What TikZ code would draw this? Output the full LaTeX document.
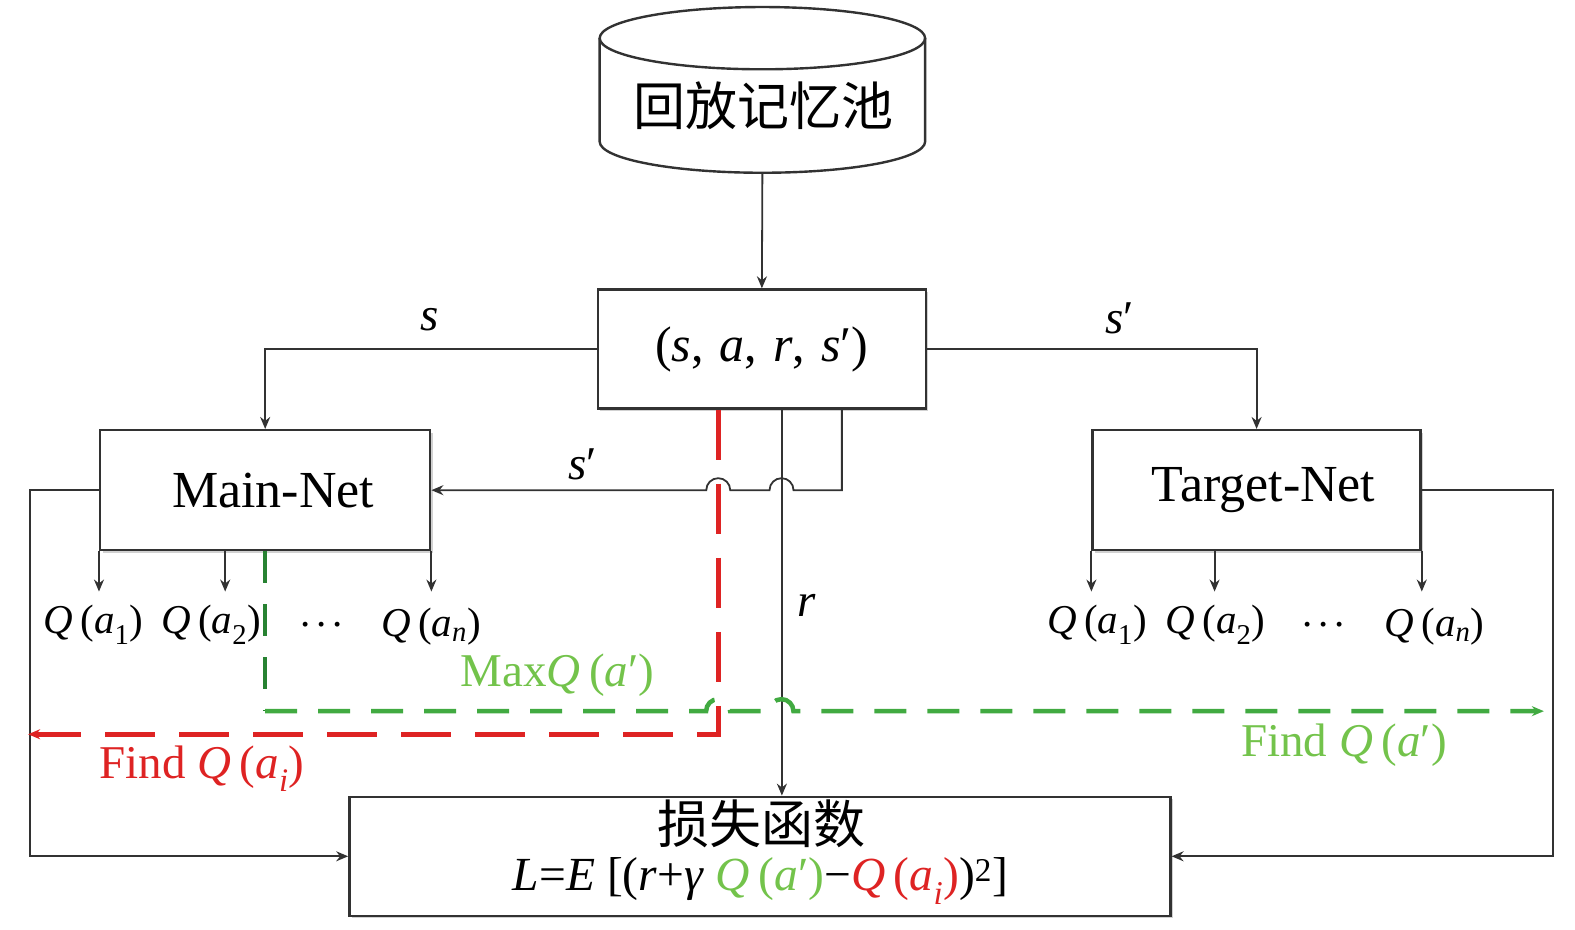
\documentclass[tikz,border=0pt]{standalone}
\usepackage{fontspec}
\setmainfont{Liberation Serif}
\newfontfamily\cjk{Noto Sans CJK SC}
\usepackage{tikz}
\usetikzlibrary{arrows}
\usetikzlibrary{arrows.meta}
\usetikzlibrary{positioning}
\usetikzlibrary{shadows}

\definecolor{lineg}{RGB}{50,50,50}
\definecolor{flowred}{RGB}{222,35,35}
\definecolor{flowgreen}{RGB}{65,170,65}
\definecolor{darkgreen}{RGB}{40,130,50}
\definecolor{textgreen}{RGB}{115,195,75}

\newcommand{\qa}[1]{\textit{Q}\hspace{0.18em}(\textit{a}\textsubscript{#1})}
\newcommand{\qp}{\textit{Q}\hspace{0.18em}(\textit{a}′)}
\newcommand{\qdots}{.\hspace{6pt}.\hspace{6pt}.}

\begin{document}
\begin{tikzpicture}
			[x=1.00446pt,y=1.00446pt,>={Stealth[length=12pt,width=10pt]},
			box/.style={draw=lineg,line width=2.4pt,fill=white,inner sep=0pt,
				drop shadow={shadow xshift=2.5pt,shadow yshift=-2.5pt,fill=black!30,opacity=0.6}},
			drum/.style={draw=lineg,line width=2.4pt},
			line/.style={draw=lineg,line width=1.8pt},
			redflow/.style={draw=flowred,line width=5pt,dash pattern=on 50pt off 24pt},
			greenflow/.style={draw=flowgreen,line width=4.5pt,dash pattern=on 32pt off 21pt},
			every node/.style={inner sep=0pt},
			big/.style={font=\fontsize{52}{58}\selectfont},
			lbl/.style={font=\fontsize{47}{52}\selectfont},
			qlbl/.style={font=\fontsize{41}{45}\selectfont}]
			\useasboundingbox (0,0) rectangle (1568,925);
			
			% replay memory drum
			\draw[drum] (597,887) -- (597,784) arc[start angle=180,end angle=360,x radius=162,y radius=31] -- (921,887);
			\draw[drum] (759,887) ellipse[x radius=162,y radius=31];
			\node[font=\cjk\fontsize{52}{58}\selectfont] (pool) at (760,820) {回放记忆池};
			\coordinate (poolbase) at (759,753);
			
			% boxes
			\node[box,minimum width=328pt,minimum height=119pt,font=\fontsize{50}{56}\selectfont] (tuple) at (758.5,577.5)
			{(\textit{s},\hspace{0.32em}\textit{a},\hspace{0.32em}\textit{r},\hspace{0.32em}\textit{s}′)};
			\node[box,minimum width=330pt,minimum height=120pt,big] (main) at (264,437) {\hspace*{16pt}Main-Net};
			\node[box,minimum width=328pt,minimum height=120pt,big] (target) at (1251,437) {\hspace*{14pt}Target-Net};
			\node[box,minimum width=821pt,minimum height=119pt] (loss) at (756.5,72.5) {};
			\node[font=\cjk\fontsize{52}{58}\selectfont] (lossname) at (758,105) {损失函数};
			\node[font=\fontsize{47.5}{52}\selectfont] (lossfn) at (757,48) {\textit{L}=\textit{E} [(\textit{r}+\textit{γ} \textcolor{textgreen}{\qp}−\textcolor{flowred}{\qa{\textit{i}}})\textsuperscript{2}]};
			
			% outputs
			\node[qlbl] (qm1) at (93,303) {\qa{1}};
			\node[qlbl] (qm2) at (210,303) {\qa{2}};
			\node[qlbl] (qmd) at (320,303) {\qdots};
			\node[qlbl] (qmn) at (429,301) {\qa{\textit{n}}};
			\node[qlbl] (qt1) at (1092,303) {\qa{1}};
			\node[qlbl] (qt2) at (1210,303) {\qa{2}};
			\node[qlbl] (qtd) at (1318,303) {\qdots};
			\node[qlbl] (qtn) at (1428,301) {\qa{\textit{n}}};
			
			% labels
			\node[lbl] (ls) at (428,607) {\textit{s}};
			\node[lbl] (lsp) at (1115,608) {\textit{s}′};
			\node[lbl] (lsm) at (580,463) {\textit{s}′};
			\node[lbl] (lr) at (803,322) {\textit{r}};
			\node[lbl,text=textgreen] (lmax) at (555,253) {Max\qp};
			\node[lbl,text=flowred] (lfindi) at (201,160) {Find \qa{\textit{i}}};
			\node[lbl,text=textgreen] (lfindp) at (1338,183) {Find \qp};
			
			\coordinate (rtop) at ([xshift=20pt]tuple.south);
			\coordinate (redend) at (28,194);
			\coordinate (gturn) at (264,217);
			\coordinate (gend) at (1537,217);
			
			% connectors
			\draw[line,->] (poolbase) -- (tuple.north);
			\draw[line,->] (tuple.west) -| (main.north);
			\draw[line,->] (tuple.east) -| (target.north);
			\draw[line,->] (main.west) -- ++(-69,0) |- (loss.west);
			\draw[line,->] (target.east) -- ++(131,0) |- (loss.east);
			\foreach \net in {main,target}
			{
				\draw[line,->] (\net.south west) -- ++(0,-40);
				\draw[line,->] (\net.south east) -- ++(0,-40);
			}
			\draw[line,->] ([xshift=-40pt]main.south) -- ++(0,-40);
			\draw[line,->] ([xshift=-42pt]target.south) -- ++(0,-40);
			\draw[line,->] (rtop) -- (rtop |- loss.north);
			\draw[line,->] ([xshift=80pt]tuple.south) |- (790,437)
			arc[start angle=0,end angle=180,radius=12pt] -- (727,437)
			arc[start angle=0,end angle=180,radius=12pt] -- (main.east);
			
			% flows
			\draw[redflow,->] ([xshift=-43.5pt]tuple.south) |- (redend);
			\draw[greenflow,draw=darkgreen] (main.south) -- (gturn);
			\draw[greenflow,->] (gturn) -- (703,217)
			arc[start angle=180,end angle=0,radius=12pt] -- (766,217)
			arc[start angle=180,end angle=0,radius=12pt] -- (gend);
\end{tikzpicture}
\end{document}
